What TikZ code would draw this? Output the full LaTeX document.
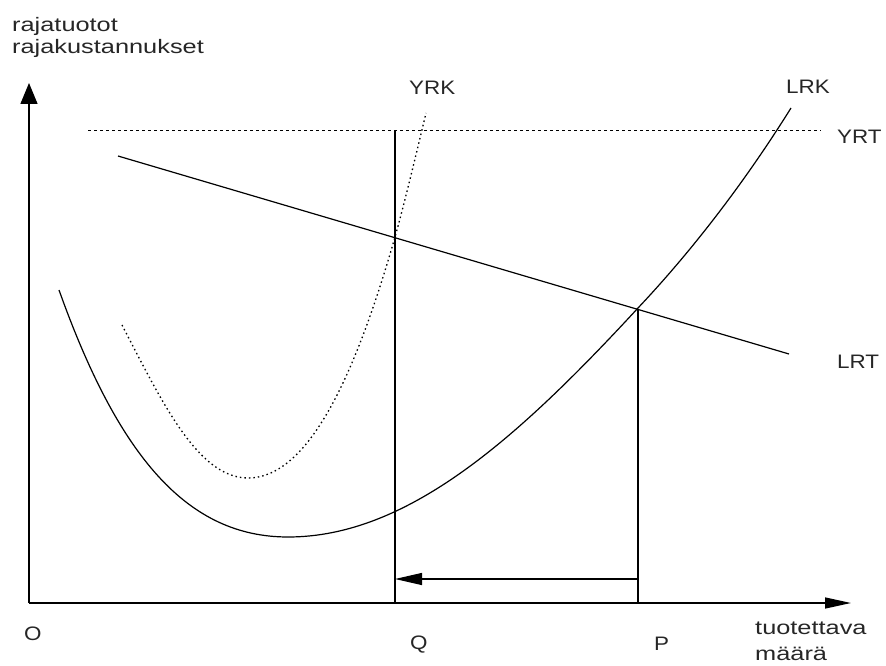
\documentclass[tikz,border=0pt]{standalone}
\usepackage{fontspec}
\setmainfont{Liberation Sans}
\usepackage{graphicx}
\usetikzlibrary{arrows.meta}
\newcommand\loww[1]{\scalebox{1.3}[1]{#1}}
\newcommand\capw[1]{\scalebox{1.15}[1]{#1}}
\begin{document}
\begin{tikzpicture}[x=1pt,y=-1pt,
  lbl/.style={font=\fontsize{19.5}{22}\selectfont, inner sep=0pt, anchor=base west, text=black!85},
  axis/.style={line width=1.4pt},
  thin line/.style={line width=1.2pt},
  dotcurve/.style={line width=1.3pt, dash pattern=on 1.5pt off 3pt},
  dashline/.style={line width=1pt, dash pattern=on 3pt off 3pt}]
\useasboundingbox (0,0) rectangle (886,666);
% coordinates
\coordinate (O) at (29,603);
\coordinate (ytip) at (29,83);
\coordinate (xtip) at (851,603);
\coordinate (Qtop) at (395,131);
\coordinate (Qbot) at (395,603);
\coordinate (Ptop) at (638,309);
\coordinate (Pbot) at (638,603);
\coordinate (arrS) at (638,579);
\coordinate (arrE) at (395,579);
\coordinate (lrtS) at (118,156);
\coordinate (lrtE) at (789,354);
\coordinate (yrtS) at (88,131);
\coordinate (yrtE) at (821,131);
\coordinate (lrkA) at (59,290);
\coordinate (lrkM) at (288,537);
\coordinate (lrkP) at (638,308);
\coordinate (lrkE) at (791,108);
\coordinate (yrkA) at (122,325);
\coordinate (yrkM) at (248,478);
\coordinate (yrkQ) at (395,237);
\coordinate (yrkE) at (426,113);
% axes
\draw[axis,-{Triangle[length=21pt,width=17pt]}] (O) -- (ytip);
\draw[axis,-{Triangle[length=26pt,width=11pt]}] (O) -- (xtip);
% verticals
\draw[thin line] (Qbot) -- (Qtop);
\draw[thin line] (Pbot) -- (Ptop);
% arrow P -> Q
\draw[thin line,-{Triangle[length=27pt,width=12pt]}] (arrS) -- (arrE);
% LRT
\draw[thin line] (lrtS) -- (lrtE);
% YRT
\draw[dashline] (yrtS) -- (yrtE);
% LRK
\draw[thin line] (lrkA) .. controls (119,458) and (188,537) .. (lrkM)
  .. controls (408,537) and (518,438) .. (lrkP)
  .. controls (688,255) and (741,188) .. (lrkE);
% YRK
\draw[dotcurve] (yrkA) .. controls (162,402) and (198,478) .. (yrkM)
  .. controls (308,478) and (355,377) .. (yrkQ)
  .. controls (403,209) and (416,155) .. (yrkE);
% labels
\node[lbl] (l1) at (12,32) {\loww{rajatuotot}};
\node[lbl] (l2) at (12,54) {\loww{rajakustannukset}};
\node[lbl] (yrk) at (409,95) {\capw{YRK}};
\node[lbl] (lrk) at (786,94) {\capw{LRK}};
\node[lbl] (yrt) at (837,143) {\capw{YRT}};
\node[lbl] (lrt) at (837,368) {\capw{LRT}};
\node[lbl] (o) at (24,640) {\capw{O}};
\node[lbl] (q) at (410,649) {\capw{Q}};
\node[lbl] (p) at (654,650) {\capw{P}};
\node[lbl] (t1) at (755,634) {\loww{tuotettava}};
\node[lbl] (t2) at (755,660) {\loww{määrä}};
\end{tikzpicture}
\end{document}
